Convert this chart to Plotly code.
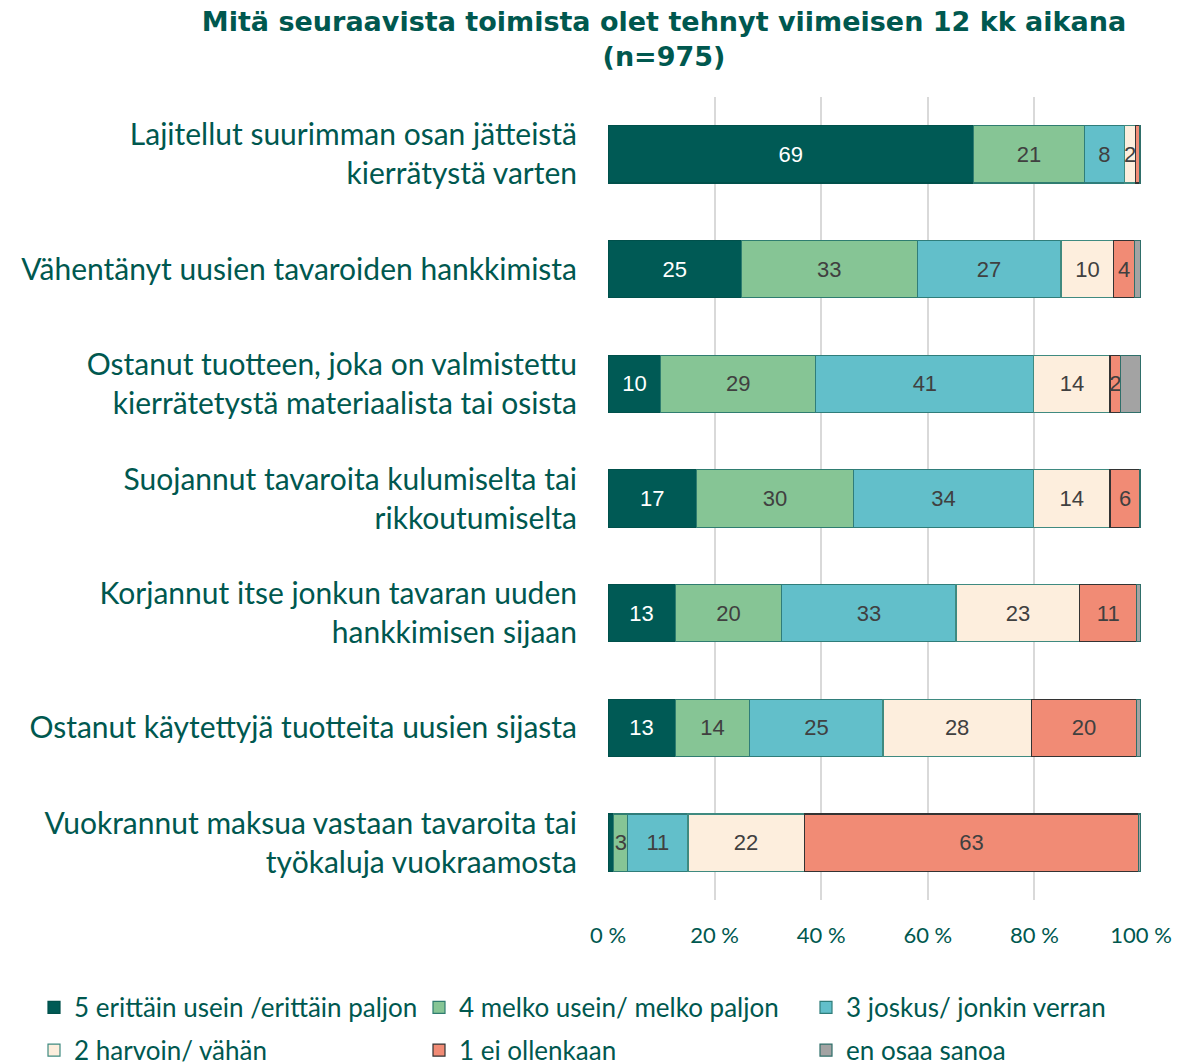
import plotly.graph_objects as go

categories = [
    "Lajitellut suurimman osan jätteistä<br>kierrätystä varten",
    "Vähentänyt uusien tavaroiden hankkimista",
    "Ostanut tuotteen, joka on valmistettu<br>kierrätetystä materiaalista tai osista",
    "Suojannut tavaroita kulumiselta tai<br>rikkoutumiselta",
    "Korjannut itse jonkun tavaran uuden<br>hankkimisen sijaan",
    "Ostanut käytettyjä tuotteita uusien sijasta",
    "Vuokrannut maksua vastaan tavaroita tai<br>työkaluja vuokraamosta",
]

series_names = [
    "5 erittäin usein /erittäin paljon",
    "4 melko usein/ melko paljon",
    "3 joskus/ jonkin verran",
    "2 harvoin/ vähän",
    "1 ei ollenkaan",
    "en osaa sanoa",
]

s5 = [68.6, 25.0, 9.9, 16.6, 12.6, 12.6, 1.1]
s4 = [20.8, 33.0, 29.1, 29.5, 20.0, 14.0, 2.6]
s3 = [7.5, 27.0, 40.9, 33.7, 32.7, 25.0, 11.3]
s2 = [2.1, 9.9, 14.3, 14.4, 23.2, 27.8, 21.8]
s1 = [0.8, 3.9, 2.0, 5.6, 10.7, 19.8, 62.8]
s0 = [0.2, 1.2, 3.8, 0.2, 0.8, 0.8, 0.4]

series_values = [s5, s4, s3, s2, s1, s0]
show_labels = [True, True, True, True, True, False]

x_tickvals = [0, 20, 40, 60, 80, 100]
x_ticktext = ["0 %", "20 %", "40 %", "60 %", "80 %", "100 %"]

fill_colors = ["#005a55", "#86c595", "#62bfca", "#fdeedd", "#f18b75", "#a3a3a3"]
line_colors = ["#00504b", "#2f7d70", "#2f7d7a", "#3f8a80", "#333333", "#2f6f6a"]
text_colors = ["#ffffff", "#404040", "#404040", "#404040", "#404040", "#404040"]
legend_ids = ["legend", "legend2", "legend3", "legend", "legend2", "legend3"]

teal = "#00584f"

W, H = 1190, 1055  # page body has an 8px margin

fig = go.Figure()
for i, (name, vals, fc, lc, tc, sl, lg) in enumerate(zip(
        series_names, series_values, fill_colors, line_colors, text_colors,
        show_labels, legend_ids)):
    labels = [f"{round(v):d}" if (sl and v >= 1.5) else "" for v in vals]
    fig.add_trace(go.Bar(
        y=categories, x=vals, name=name, orientation="h",
        marker=dict(color=fc, line=dict(color=lc, width=1.2)),
        text=labels, textposition="inside", insidetextanchor="middle",
        constraintext="none",
        textfont=dict(family="Liberation Sans, Arial", size=22, color=tc),
        hoverinfo="x+name",
        legend=lg, legendgroup=f"g{i}",
    ))

legend_common = dict(
    orientation="v", yanchor="top", y=-0.1045, xanchor="left",
    font=dict(family="Lato, Open Sans", size=26, color=teal),
    traceorder="grouped", itemwidth=30, tracegroupgap=6,
    bgcolor="rgba(0,0,0,0)",
)

fig.update_layout(
    barmode="stack",
    bargap=0.5,
    width=W, height=H,
    margin=dict(l=600, r=57, t=89, b=163, autoexpand=False),
    paper_bgcolor="white", plot_bgcolor="white",
    title=dict(
        text="Mitä seuraavista toimista olet tehnyt viimeisen 12 kk aikana<br>(n=975)",
        x=656/W, xanchor="center", y=0.978, yanchor="top",
        font=dict(family="DejaVu Sans, Verdana", size=27, color=teal, weight="bold"),
    ),
    xaxis=dict(
        range=[0, 100], tickmode="array", tickvals=x_tickvals, ticktext=x_ticktext,
        showgrid=True, gridcolor="#d9d9d9", gridwidth=2,
        zeroline=False, showline=False,
        tickfont=dict(family="Lato, Open Sans", size=22, color=teal),
        ticklabelstandoff=20,
    ),
    yaxis=dict(
        autorange="reversed", showgrid=False, showline=False,
        tickfont=dict(family="Lato, Open Sans", size=30, color=teal),
        ticklabelstandoff=30,
    ),
    legend=dict(legend_common, x=(26-600)/533),
    legend2=dict(legend_common, x=(411-600)/533),
    legend3=dict(legend_common, x=(798-600)/533),
    showlegend=True,
)

fig.write_html("out.html")
